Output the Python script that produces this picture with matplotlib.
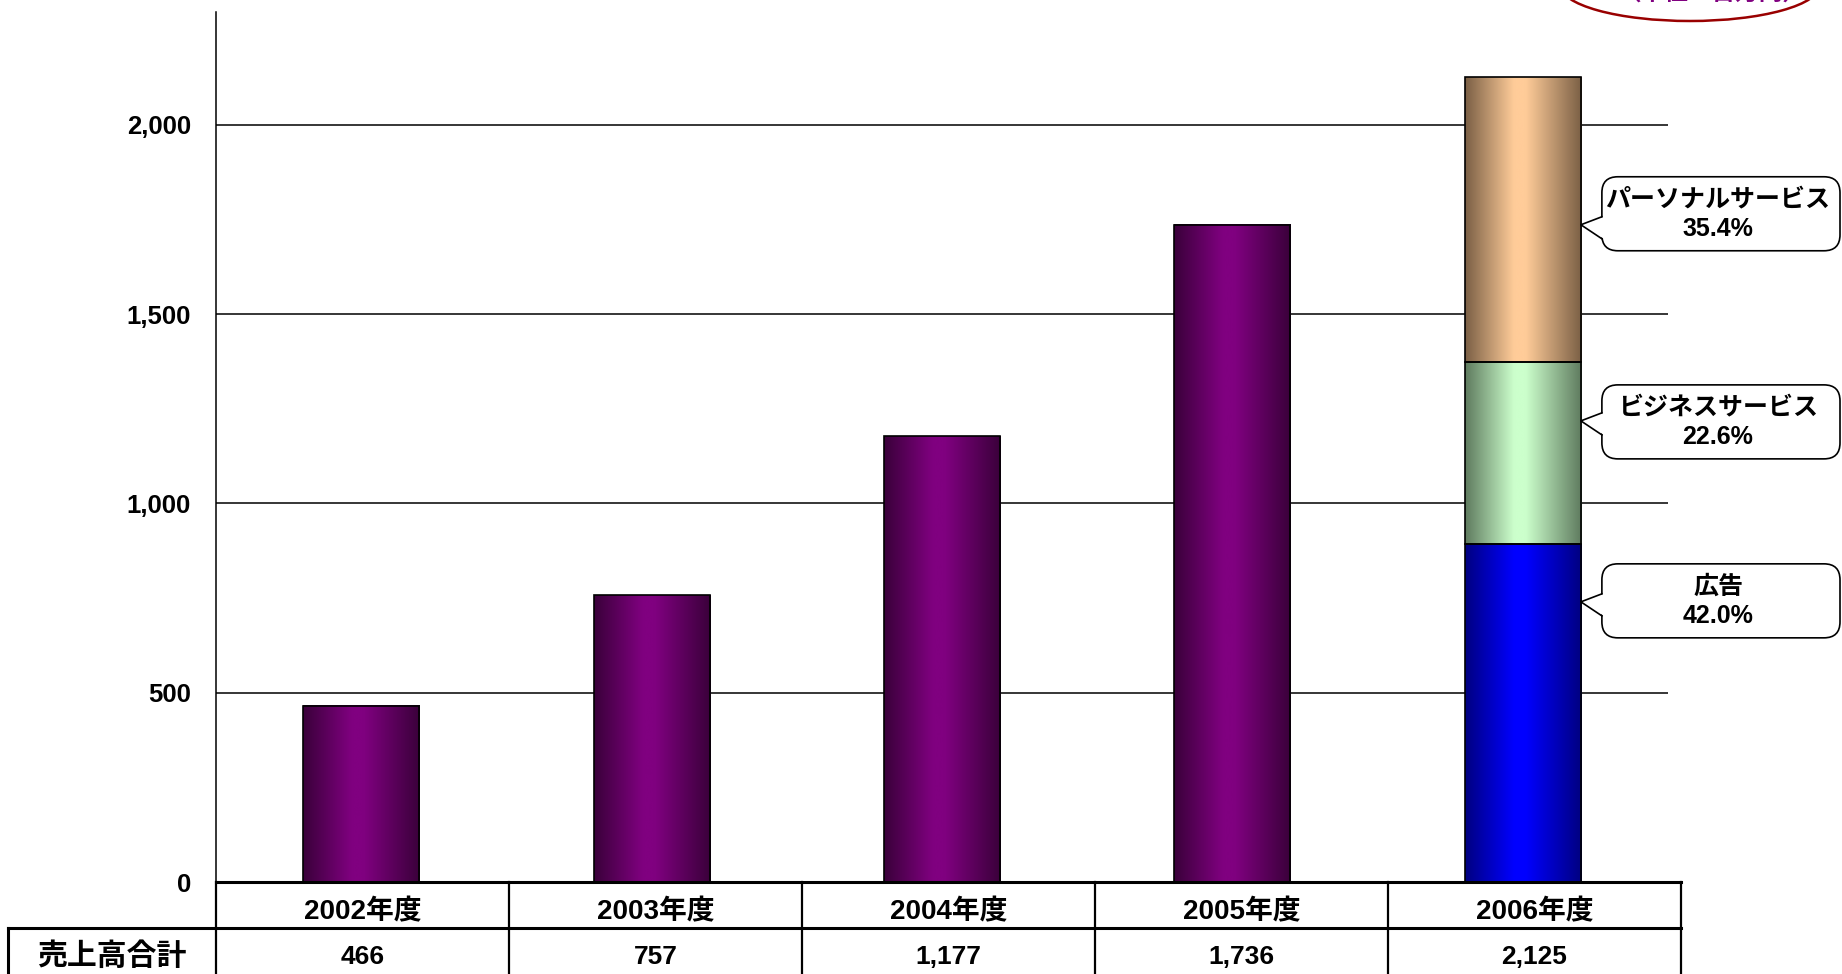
import numpy as np
import matplotlib.pyplot as plt
from matplotlib.colors import LinearSegmentedColormap
from matplotlib.patches import FancyBboxPatch, Polygon, Ellipse

plt.rcParams['font.family'] = ['Liberation Sans', 'Noto Sans CJK JP']
plt.rcParams['font.weight'] = 'bold'

years = ['2002年度', '2003年度', '2004年度', '2005年度', '2006年度']
totals = [466, 757, 1177, 1736, 2125]
row_title = '売上高合計'

# 2006 breakdown, bottom to top
seg_names = ['広告', 'ビジネスサービス', 'パーソナルサービス']
seg_share = [42.0, 22.6, 35.4]
seg_label_at = [740, 1218, 1736]
box_shift = [-1, 1, -11]   # px, callout box relative to its pointer

yticks = [0, 500, 1000, 1500, 2000]
unit_text = '（単位：百万円）'

purple = ('#3a003a', '#800080')
seg_colors = [('#000080', '#0000ff'), ('#5e7a5e', '#ccffcc'), ('#7a5f45', '#ffcc99')]

W, H = 1842, 974
fig = plt.figure(figsize=(W / 100, H / 100), dpi=100)
ax = fig.add_axes([216 / W, 92 / H, (1668 - 216) / W, (962 - 92) / H])
ov = fig.add_axes([0, 0, 1, 1], zorder=5)
ov.set_xlim(0, W)
ov.set_ylim(H, 0)
ov.axis('off')

x = np.arange(len(years))
bw = 0.4


def shade(rect, edge, mid):
    # horizontal gradient, dark at the sides
    cmap = LinearSegmentedColormap.from_list(
        'g', [(0, edge), (0.42, mid), (0.52, mid), (1, edge)])
    x0, y0 = rect.get_x(), rect.get_y()
    ax.imshow(np.linspace(0, 1, 256)[None, :], cmap=cmap, aspect='auto',
              extent=[x0, x0 + rect.get_width(), y0, y0 + rect.get_height()],
              interpolation='bicubic', zorder=2)


bars = ax.bar(x[:-1], totals[:-1], bw, facecolor='none', edgecolor='black',
              linewidth=1.2, zorder=3)
for r in bars:
    shade(r, *purple)

seg_vals = [totals[-1] * s / 100 for s in seg_share]
bottoms = np.concatenate([[0], np.cumsum(seg_vals)[:-1]])
for v, b, c in zip(seg_vals, bottoms, seg_colors):
    r = ax.bar(x[-1], v, bw, bottom=b, facecolor='none', edgecolor='black',
               linewidth=1.2, zorder=3)[0]
    shade(r, *c)

ax.set_xlim(-0.5, 4.5)
ax.set_ylim(0, 2298)
ax.set_xticks([])
ax.set_yticks(yticks)
ax.set_yticklabels([f'{t:,}' for t in yticks])
ax.tick_params(axis='y', length=0, pad=18, labelsize=18.5)
ax.yaxis.grid(True, color='black', linewidth=1.1)
ax.set_axisbelow(True)
for s in ['top', 'right', 'bottom']:
    ax.spines[s].set_visible(False)
ax.spines['left'].set_linewidth(1.1)


def px(xd, yd):
    return ov.transData.inverted().transform(ax.transData.transform((xd, yd)))


# data table under the chart, five equal columns
left = px(-0.5, 0)[0]
right = px(4.5, 0)[0] + 13
edges = np.linspace(left, right, len(years) + 1)
y_top = px(0, 0)[1]
row_h = 46
y_mid = y_top + row_h
y_bot = H + 5
ov.plot([left, right], [y_top, y_top], color='black', lw=2.2)
ov.plot([8, right], [y_mid, y_mid], color='black', lw=2.2)
for e in edges:
    ov.plot([e, e], [y_top, y_bot], color='black', lw=1.6)
ov.plot([8, 8], [y_mid, y_bot], color='black', lw=2.2)

for i in range(len(years)):
    cx = (edges[i] + edges[i + 1]) / 2
    ov.text(cx, y_top + row_h / 2 + 7, years[i], ha='center', va='center', fontsize=20)
    ov.text(cx, y_mid + 29, f'{totals[i]:,}', ha='center', va='center', fontsize=19)
ov.text(112, y_mid + 29, row_title, ha='center', va='center', fontsize=21.5)

# callouts for the 2006 segments
for name, share, at, dy in zip(seg_names, seg_share, seg_label_at, box_shift):
    tx, ty = px(x[-1] + bw / 2, at)
    cy = ty + dy
    bx0 = tx + 21
    box = FancyBboxPatch((bx0, cy - 37), 1840 - bx0, 74,
                         boxstyle='round,pad=0,rounding_size=16',
                         fc='white', ec='black', lw=1.2)
    ov.add_patch(box)
    ov.add_patch(Polygon([(bx0 + 2, ty - 8), (tx, ty), (bx0 + 2, ty + 14)],
                         closed=True, fc='white', ec='none', zorder=3))
    ov.plot([bx0, tx, bx0], [ty - 8, ty, ty + 14], color='black', lw=1.2, zorder=4)
    ov.text(1718, cy - 14, name, ha='center', va='center', fontsize=18)
    ov.text(1718, cy + 15, f'{share:.1f}%', ha='center', va='center', fontsize=18)

# unit note in the top corner
ov.add_patch(Ellipse((1690, -15), 260, 72, fc='none', ec='#990000', lw=1.8))
ov.text(1712, 5, unit_text, color='#800080', ha='center', va='bottom', fontsize=17)

fig.savefig('out.png', dpi=100)
